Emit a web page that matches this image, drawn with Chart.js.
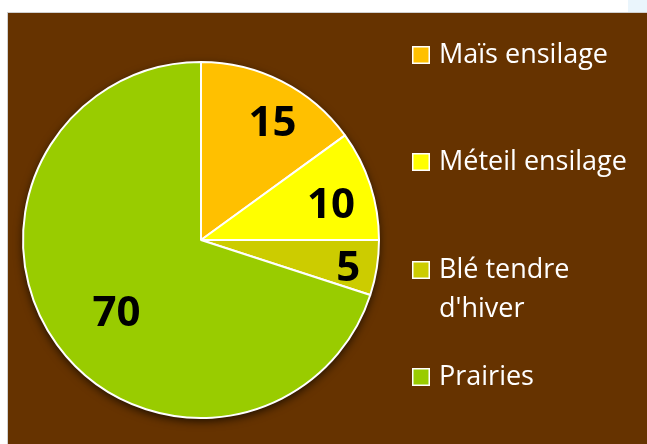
<!DOCTYPE html>
<html>
<head>
<meta charset="utf-8">
<script src="https://cdn.jsdelivr.net/npm/chart.js@4"></script>
<style>
  html, body { margin: 0; padding: 0; background: #ffffff; }
  #wrap { position: relative; width: 647px; height: 444px; overflow: hidden; }
  #strip { position: absolute; left: 628px; top: 0; width: 19px; height: 12px; background: #eaf5fc; }
  #panel { position: absolute; left: 7px; top: 12px; right: 0; bottom: 0; background: #663300;
           border-top: 1px solid #d0d0d0; border-left: 1px solid #d0d0d0; }
  #chartBox { position: absolute; left: 0; top: 0; width: 647px; height: 444px; }
</style>
</head>
<body>
<div id="wrap">
  <div id="strip"></div>
  <div id="panel"></div>
  <div id="chartBox"><canvas id="pieChart" width="647" height="444"></canvas></div>
</div>
<script>
const categories = ['Maïs ensilage', 'Méteil ensilage', 'Blé tendre d\'hiver', 'Prairies'];
const values = [15, 10, 5, 70];
const sliceColors = ['#FFC000', '#FFFF00', '#CCCC00', '#99CC00'];

// shadow under the whole pie
const pieShadow = {
  id: 'pieShadow',
  beforeDatasetsDraw(chart) {
    const arc = chart.getDatasetMeta(0).data[0];
    if (!arc) return;
    const ctx = chart.ctx;
    ctx.save();
    ctx.shadowColor = 'rgba(0,0,0,0.75)';
    ctx.shadowBlur = 10;
    ctx.shadowOffsetX = 0;
    ctx.shadowOffsetY = 3;
    ctx.fillStyle = '#ffffff';
    ctx.beginPath();
    ctx.arc(arc.x, arc.y, arc.outerRadius, 0, Math.PI * 2);
    ctx.fill();
    ctx.restore();
  }
};

// value labels inside slices
const sliceLabels = {
  id: 'sliceLabels',
  afterDatasetsDraw(chart, args, opts) {
    const ctx = chart.ctx;
    const meta = chart.getDatasetMeta(0);
    ctx.save();
    ctx.font = opts.font;
    ctx.fillStyle = '#000000';
    ctx.textAlign = 'center';
    ctx.textBaseline = 'middle';
    meta.data.forEach((arc, i) => {
      const mid = (arc.startAngle + arc.endAngle) / 2 + (opts.shift[i] || 0) * Math.PI / 180;
      const r = arc.outerRadius * opts.radius[i];
      ctx.fillText(String(chart.data.datasets[0].data[i]),
        arc.x + Math.cos(mid) * r, arc.y + Math.sin(mid) * r + opts.dy);
    });
    ctx.restore();
  }
};

// legend on the right, with wrapping
const sideLegend = {
  id: 'sideLegend',
  afterDraw(chart, args, opts) {
    const ctx = chart.ctx;
    ctx.save();
    ctx.font = opts.font;
    ctx.textBaseline = 'alphabetic';
    ctx.textAlign = 'left';
    chart.data.labels.forEach((label, i) => {
      const top = opts.rows[i];
      ctx.fillStyle = chart.data.datasets[0].backgroundColor[i];
      ctx.fillRect(opts.x, top, opts.box, opts.box);
      ctx.strokeStyle = '#ffffff';
      ctx.lineWidth = 1.5;
      ctx.strokeRect(opts.x + 0.75, top + 0.75, opts.box - 1.5, opts.box - 1.5);

      // word wrap
      const words = label.split(' ');
      const lines = [];
      let line = '';
      words.forEach(w => {
        const test = line ? line + ' ' + w : w;
        if (line && ctx.measureText(test).width > opts.maxWidth) {
          lines.push(line);
          line = w;
        } else {
          line = test;
        }
      });
      lines.push(line);
      ctx.fillStyle = '#ffffff';
      lines.forEach((l, k) => {
        ctx.fillText(l, opts.textX, top + opts.baseline + k * opts.lineHeight);
      });
    });
    ctx.restore();
  }
};

const ctx = document.getElementById('pieChart').getContext('2d');
const pieChart = new Chart(ctx, {
  type: 'pie',
  data: {
    labels: categories,
    datasets: [{
      data: values,
      backgroundColor: sliceColors,
      borderColor: '#ffffff',
      borderWidth: 2,
      hoverOffset: 0
    }]
  },
  options: {
    responsive: false,
    animation: false,
    layout: { padding: { left: 22, top: 61, right: 267, bottom: 25 } },
    plugins: {
      legend: { display: false },
      tooltip: { enabled: false },
      sliceLabels: {
        font: 'bold 42px "Open Sans"',
        radius: [0.78, 0.76, 0.84, 0.62],
        shift: [4, 2, 1, -4],
        dy: 3
      },
      sideLegend: {
        font: '27px "Open Sans"',
        x: 412,
        textX: 439,
        box: 18,
        rows: [46, 153, 261, 368],
        baseline: 17,
        lineHeight: 39,
        maxWidth: 210
      }
    }
  },
  plugins: [pieShadow, sliceLabels, sideLegend]
});
</script>
</body>
</html>
